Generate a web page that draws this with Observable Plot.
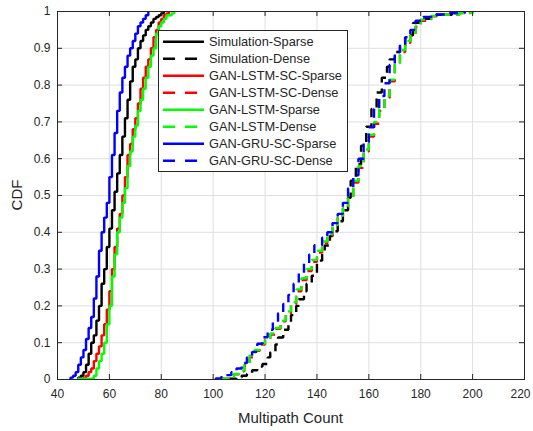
<!DOCTYPE html>
<html><head><meta charset="utf-8">
<script src="https://cdn.jsdelivr.net/npm/d3@7"></script>
<script src="https://cdn.jsdelivr.net/npm/@observablehq/plot@0.6"></script>
<style>body{margin:0;background:#fff}#chart{width:533px;height:431px;overflow:hidden}</style>
</head><body><div id="chart"></div>
<script>
const seriesNames = ["Simulation-Sparse","Simulation-Dense","GAN-LSTM-SC-Sparse","GAN-LSTM-SC-Dense","GAN-LSTM-Sparse","GAN-LSTM-Dense","GAN-GRU-SC-Sparse","GAN-GRU-SC-Dense"];
const seriesColors = ["#000000","#000000","#ff0000","#ff0000","#00ff00","#00ff00","#0000ff","#0000ff"];
const seriesDashed = [false,true,false,true,false,true,false,true];
const xTicks = [40,60,80,100,120,140,160,180,200,220];
const yTicks = [0,0.1,0.2,0.3,0.4,0.5,0.6,0.7,0.8,0.9,1];

// [value, CDF] step points
const simSparse = [[48,0.005],[49,0.01],[50,0.02],[51,0.04],[52,0.07],[53,0.1],[54,0.12],[55,0.16],[56,0.2],[57,0.26],[58,0.3],[59,0.36],[60,0.41],[61,0.46],[62,0.51],[63,0.56],[64,0.61],[65,0.66],[66,0.71],[67,0.76],[68,0.81],[69,0.85],[70,0.87],[71,0.9],[72,0.92],[73,0.935],[74,0.95],[75,0.96],[76,0.97],[77,0.98],[78,0.985],[79,0.99],[80,0.995],[81,1]];
const simDense = [[106,0.002],[109,0.006],[111,0.01],[113,0.015],[115,0.025],[117,0.035],[119,0.042],[121,0.06],[122,0.074],[124,0.095],[125,0.114],[127,0.135],[129,0.155],[130,0.175],[132,0.2],[133,0.218],[135,0.24],[136,0.26],[138,0.282],[140,0.323],[142,0.345],[143,0.364],[145,0.39],[146,0.403],[148,0.43],[150,0.46],[152,0.494],[153,0.54],[155,0.585],[157,0.635],[159,0.687],[161,0.735],[163,0.78],[165,0.82],[167,0.85],[168,0.87],[170,0.89],[172,0.906],[174,0.935],[177,0.969],[180,0.98],[186,0.991],[192,0.996],[196,1]];
const lstmScSparse = [[50,0.005],[51,0.01],[52,0.02],[53,0.03],[54,0.05],[55,0.07],[56,0.09],[57,0.12],[58,0.15],[59,0.19],[60,0.24],[61,0.3],[62,0.36],[63,0.41],[64,0.45],[65,0.5],[66,0.55],[67,0.61],[68,0.64],[69,0.68],[70,0.71],[71,0.75],[72,0.79],[73,0.82],[74,0.85],[75,0.87],[76,0.9],[77,0.93],[78,0.95],[79,0.97],[80,0.98],[81,0.99],[82,0.995],[83,1]];
const lstmScDense = [[103,0.002],[106,0.008],[108,0.014],[110,0.022],[112,0.038],[114,0.06],[116,0.078],[118,0.095],[120,0.108],[122,0.122],[124,0.138],[126,0.158],[128,0.18],[130,0.205],[132,0.24],[134,0.27],[136,0.295],[138,0.32],[140,0.345],[142,0.37],[144,0.39],[146,0.415],[148,0.44],[150,0.465],[152,0.495],[154,0.535],[156,0.575],[158,0.62],[160,0.66],[162,0.695],[164,0.73],[166,0.765],[168,0.81],[170,0.855],[172,0.89],[174,0.915],[176,0.935],[178,0.958],[180,0.975],[184,0.987],[188,0.992],[195,0.996],[199,1]];
const lstmSparse = [[48,0.002],[54,0.01],[55,0.03],[56,0.05],[57,0.07],[58,0.1],[59,0.15],[60,0.2],[61,0.28],[62,0.34],[63,0.4],[64,0.44],[65,0.48],[66,0.52],[67,0.58],[68,0.62],[69,0.66],[70,0.69],[71,0.73],[72,0.76],[73,0.79],[74,0.82],[75,0.85],[76,0.88],[77,0.9],[78,0.94],[79,0.96],[80,0.97],[81,0.98],[82,0.99],[84,0.995],[85,1]];
const lstmDense = [[103,0.002],[106,0.008],[108,0.015],[110,0.024],[112,0.04],[114,0.065],[116,0.08],[118,0.098],[120,0.11],[122,0.125],[124,0.14],[126,0.16],[128,0.185],[130,0.21],[132,0.245],[134,0.275],[136,0.3],[138,0.325],[140,0.35],[142,0.375],[144,0.395],[146,0.42],[148,0.445],[150,0.47],[152,0.5],[154,0.54],[156,0.58],[158,0.625],[160,0.665],[162,0.7],[164,0.735],[166,0.77],[168,0.815],[170,0.86],[172,0.895],[174,0.92],[176,0.937],[178,0.96],[180,0.978],[184,0.988],[188,0.992],[195,0.996],[200,1]];
const gruScSparse = [[45,0.005],[46,0.01],[47,0.02],[48,0.04],[49,0.06],[50,0.08],[51,0.11],[52,0.14],[53,0.17],[54,0.22],[55,0.28],[56,0.35],[57,0.4],[58,0.44],[59,0.48],[60,0.55],[61,0.61],[62,0.67],[63,0.73],[64,0.78],[65,0.82],[66,0.85],[67,0.88],[68,0.9],[69,0.92],[70,0.94],[71,0.96],[72,0.97],[73,0.98],[74,0.99],[75,1]];
const gruScDense = [[101,0.003],[103,0.006],[105,0.012],[107,0.02],[109,0.03],[111,0.045],[113,0.06],[115,0.075],[117,0.097],[119,0.115],[121,0.135],[123,0.155],[125,0.18],[127,0.205],[129,0.23],[131,0.26],[133,0.29],[135,0.315],[137,0.34],[139,0.365],[142,0.385],[144,0.4],[146,0.425],[148,0.45],[150,0.48],[152,0.52],[154,0.555],[156,0.6],[158,0.645],[160,0.685],[162,0.735],[164,0.77],[166,0.805],[168,0.855],[170,0.89],[172,0.91],[174,0.93],[176,0.95],[178,0.975],[181,0.985],[184,0.992],[190,0.996],[197,1]];

const allSeries = [simSparse, simDense, lstmScSparse, lstmScDense, lstmSparse, lstmDense, gruScSparse, gruScDense];

const W = 533, H = 431;
const mL = 57, mR = 9, mT = 11, mB = 52;
const font = "'Liberation Sans', Arial, Helvetica, sans-serif";
const axisColor = "#262626";

const tickLenX = 5 / (H - mT - mB);
const tickLenY = 5 * 180 / (W - mL - mR);

const lineMarks = allSeries.map((s, i) => {
  const pts = [[s[0][0], 0], ...s].map(([x, p]) => ({x, p}));
  return Plot.line(pts, {
    x: "x", y: "p", curve: "step-after",
    stroke: seriesColors[i], strokeWidth: 2.4,
    strokeDasharray: seriesDashed[i] ? "9,6" : null,
    strokeLinejoin: "miter", strokeLinecap: "butt"
  });
});

const plot = Plot.plot({
  width: W, height: H,
  marginLeft: mL, marginRight: mR, marginTop: mT, marginBottom: mB,
  style: {fontFamily: font, fontSize: "12px", color: axisColor, background: "#fff"},
  x: {domain: [40, 220], ticks: xTicks, tickSize: 0, tickPadding: 10, tickFormat: d => String(d), label: null},
  y: {domain: [0, 1], ticks: yTicks, tickSize: 0, tickPadding: 7, tickFormat: d => String(d), label: null},
  marks: [
    Plot.ruleX(xTicks, {stroke: "#dfdfdf", strokeWidth: 1}),
    Plot.ruleY(yTicks, {stroke: "#dfdfdf", strokeWidth: 1}),
    ...lineMarks,
    Plot.ruleX(xTicks, {y1: 0, y2: tickLenX, stroke: axisColor}),
    Plot.ruleX(xTicks, {y1: 1, y2: 1 - tickLenX, stroke: axisColor}),
    Plot.ruleY(yTicks, {x1: 40, x2: 40 + tickLenY, stroke: axisColor}),
    Plot.ruleY(yTicks, {x1: 220, x2: 220 - tickLenY, stroke: axisColor}),
    Plot.frame({stroke: axisColor, strokeWidth: 1})
  ]
});

const svg = d3.select(plot);
// keep the last tick label inside the picture
svg.selectAll("text").filter(function() { return this.textContent === "220"; }).attr("dx", -4);

svg.append("text").attr("x", (mL + W - mR) / 2).attr("y", 423)
  .attr("text-anchor", "middle").attr("font-family", font).attr("font-size", 15)
  .attr("fill", axisColor).text("Multipath Count");
svg.append("text").attr("transform", `translate(22,${(mT + H - mB) / 2}) rotate(-90)`)
  .attr("text-anchor", "middle").attr("font-family", font).attr("font-size", 15)
  .attr("fill", axisColor).text("CDF");

const lg = svg.append("g").attr("text-anchor", "start");
const lx = 158, ly = 30, lw = 189, lh = 141;
lg.append("rect").attr("x", lx + 0.5).attr("y", ly + 0.5).attr("width", lw).attr("height", lh)
  .attr("fill", "#fff").attr("stroke", axisColor).attr("stroke-width", 1);
seriesNames.forEach((name, i) => {
  const yy = ly + 11.7 + i * 17;
  lg.append("line").attr("x1", lx + 5).attr("x2", lx + 46).attr("y1", yy).attr("y2", yy)
    .attr("stroke", seriesColors[i]).attr("stroke-width", 2.4)
    .attr("stroke-dasharray", seriesDashed[i] ? "12,10" : null);
  lg.append("text").attr("x", lx + 51).attr("y", yy).attr("dy", "0.35em")
    .attr("text-anchor", "start")
    .attr("font-family", font).attr("font-size", 12.8).attr("fill", axisColor).text(name);
});

document.getElementById("chart").appendChild(plot);
</script>
</body></html>
